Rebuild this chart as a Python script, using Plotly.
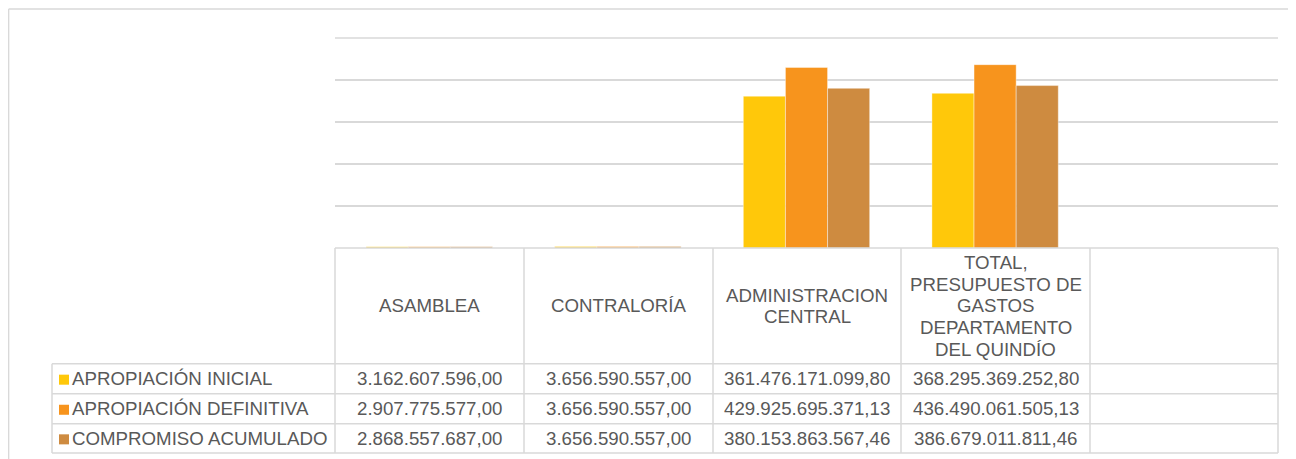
import plotly.graph_objects as go

categories = ["ASAMBLEA", "CONTRALORÍA", "ADMINISTRACION CENTRAL",
              "TOTAL, PRESUPUESTO DE GASTOS DEPARTAMENTO DEL QUINDÍO"]
header_labels = [["ASAMBLEA"], ["CONTRALORÍA"], ["ADMINISTRACION", "CENTRAL"],
                 ["TOTAL,", "PRESUPUESTO DE", "GASTOS", "DEPARTAMENTO", "DEL QUINDÍO"]]
series_names = ["APROPIACIÓN INICIAL", "APROPIACIÓN DEFINITIVA", "COMPROMISO ACUMULADO"]
apropiacion_inicial = [3162607596.00, 3656590557.00, 361476171099.80, 368295369252.80]
apropiacion_definitiva = [2907775577.00, 3656590557.00, 429925695371.13, 436490061505.13]
compromiso_acumulado = [2868557687.00, 3656590557.00, 380153863567.46, 386679011811.46]
series_values = [apropiacion_inicial, apropiacion_definitiva, compromiso_acumulado]
colors = ["#FFC80A", "#F7941D", "#CE8B40"]

OFF = 8.0  # page body margin
W, H = 1288, 451
L, R = 335.0 - OFF, 1278.0 - OFF
T, B = 38.3 - OFF, 247.7 - OFF
TXT = "#595959"
GRID = "#D9D9D9"
FONT = "Liberation Sans, Arial, sans-serif"
FS = 18.7


def px_x(x):
    return (x - OFF - L) / (R - L)


def px_y(y):
    return (B - (y - OFF)) / (B - T)


def fmt(v):
    s = f"{v:,.2f}"
    return s.replace(",", "X").replace(".", ",").replace("X", ".")


fig = go.Figure()
x_slots = categories + [" "]
for name, vals, col in zip(series_names, series_values, colors):
    fig.add_trace(go.Bar(
        x=categories, y=vals, name=name,
        marker=dict(color=col, line=dict(color="rgba(255,255,255,0.5)", width=0.8)),
    ))

shapes = []
line = dict(color=GRID, width=1.5)


def hline(y, x0, x1):
    shapes.append(dict(type="line", xref="paper", yref="paper",
                       x0=px_x(x0), x1=px_x(x1), y0=px_y(y), y1=px_y(y), line=line))


def vline(x, y0, y1):
    shapes.append(dict(type="line", xref="paper", yref="paper",
                       x0=px_x(x), x1=px_x(x), y0=px_y(y0), y1=px_y(y1), line=line))


# outer chart frame
hline(9.5, 8.6, 1300)
vline(8.6, 9.5, 470)

# top gridline
hline(38.3, 335, 1278)

# table
col_x = [335, 524, 713, 901, 1090, 1278]
row_y = [247.7, 363, 393, 423, 452]
hline(247.7, 335, 1278)
for y in row_y[1:]:
    hline(y, 52, 1278)
for x in col_x:
    vline(x, 247.7, 452)
vline(52, 363, 452)

annotations = []
LS = 21.6
# headers
for i, lines in enumerate(header_labels):
    cx = (col_x[i] + col_x[i + 1]) / 2
    n = len(lines)
    for k, txt in enumerate(lines):
        cy = 305.5 + (k - (n - 1) / 2) * LS
        annotations.append(dict(xref="paper", yref="paper", x=px_x(cx), y=px_y(cy),
                                text=txt, showarrow=False, xanchor="center", yanchor="middle",
                                font=dict(size=FS, color=TXT, family=FONT)))
# rows
for r, (name, vals, col) in enumerate(zip(series_names, series_values, colors)):
    cy = (row_y[r + 1] + row_y[r + 2]) / 2
    shapes.append(dict(type="rect", xref="paper", yref="paper",
                       x0=px_x(59), x1=px_x(69), y0=px_y(cy - 4), y1=px_y(cy + 6),
                       fillcolor=col, line=dict(width=0)))
    annotations.append(dict(xref="paper", yref="paper", x=px_x(70), y=px_y(cy),
                            text=name, showarrow=False, xanchor="left", yanchor="middle",
                            font=dict(size=FS, color=TXT, family=FONT)))
    for i, v in enumerate(vals):
        cx = (col_x[i] + col_x[i + 1]) / 2
        annotations.append(dict(xref="paper", yref="paper", x=px_x(cx), y=px_y(cy),
                                text=fmt(v), showarrow=False, xanchor="center", yanchor="middle",
                                font=dict(size=FS, color=TXT, family=FONT)))

fig.update_layout(
    width=W, height=H,
    margin=dict(l=L, r=W - R, t=T, b=H - B, pad=0),
    paper_bgcolor="white", plot_bgcolor="white",
    barmode="group", bargap=0.33, bargroupgap=0,
    showlegend=False,
    font=dict(family=FONT, color=TXT, size=FS),
    xaxis=dict(type="category", categoryarray=x_slots, range=[-0.5, 4.5],
               showticklabels=False, showgrid=False, zeroline=False, ticks=""),
    yaxis=dict(range=[0, 500e9], dtick=100e9, showticklabels=False,
               showgrid=True, gridcolor=GRID, gridwidth=1.5, zeroline=False, ticks=""),
    shapes=shapes, annotations=annotations,
)

fig.write_html("out.html")
